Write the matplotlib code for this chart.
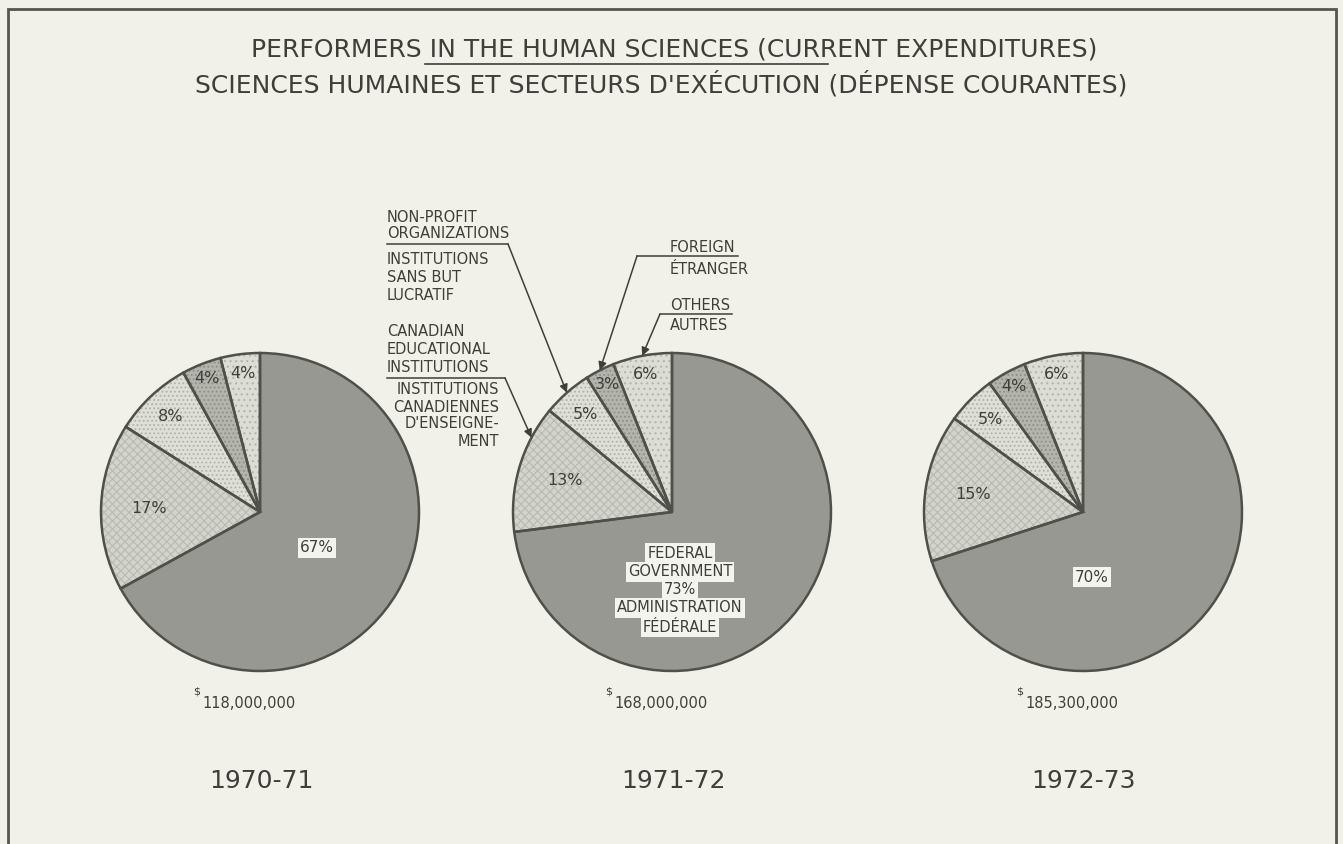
import numpy as np
import matplotlib
matplotlib.use("Agg")
import matplotlib.pyplot as plt
from matplotlib.patches import Rectangle

# ---------------- data ----------------
years = ["1970-71", "1971-72", "1972-73"]
totals = ["118,000,000", "168,000,000", "185,300,000"]
federal = [67, 73, 70]
educational = [17, 13, 15]
nonprofit = [8, 5, 5]
foreign = [4, 3, 4]
others = [4, 6, 6]
title_en = "PERFORMERS IN THE HUMAN SCIENCES (CURRENT EXPENDITURES)"
title_fr = "SCIENCES HUMAINES ET SECTEURS D'EXÉCUTION (DÉPENSE COURANTES)"

# ---------------- layout / style ----------------
W, H = 1343, 844
BG = "#f1f1e9"
INK = "#3e3f3a"
centers_x = [260, 672, 1083]
center_y = 512
R = 159
fills = ["#979891", "#d3d4cb", "#dedfd6", "#b3b4ac", "#dcddd4"]
hatches = [None, "xxxx", "....", "....", "..."]
hatch_cols = ["#979891", "#b9bab2", "#b0b1a9", "#8e8f88", "#b3b4ac"]
label_frac = [None, 0.70, 0.82, 0.90, 0.88]

plt.rcParams["font.family"] = ["DejaVu Sans"]
plt.rcParams["hatch.linewidth"] = 0.8

fig = plt.figure(figsize=(W / 100, H / 100), dpi=100, facecolor=BG)
ax = fig.add_axes([0, 0, 1, 1])
ax.set_facecolor(BG)


def Y(y):
    return H - y


def edge_point(cx, angle_deg, frac=1.0):
    a = np.deg2rad(angle_deg)
    return cx + frac * R * np.sin(a), center_y - frac * R * np.cos(a)


for i in range(3):
    vals = [federal[i], educational[i], nonprofit[i], foreign[i], others[i]]
    cx = centers_x[i]
    wedges, _ = ax.pie(vals, center=(cx, Y(center_y)), radius=R, startangle=90,
                       counterclock=False, colors=fills, frame=True,
                       wedgeprops=dict(linewidth=0))
    for w, h, hc in zip(wedges, hatches, hatch_cols):
        if h:
            w.set_hatch(h)
            w.set_edgecolor(hc)
            w.set_linewidth(0)
    ax.pie(vals, center=(cx, Y(center_y)), radius=R, startangle=90,
           counterclock=False, colors=["none"] * 5, frame=True,
           wedgeprops=dict(linewidth=1.8, edgecolor="#4f504a", fill=False))

    cum = np.cumsum([0] + vals) / 100 * 360
    for k in range(1, 5):
        mid = (cum[k] + cum[k + 1]) / 2
        px, py = edge_point(cx, mid, label_frac[k])
        ax.text(px, Y(py), f"{vals[k]}%", ha="center", va="center",
                fontsize=11.5, color=INK)

    ax.text(cx - 67, Y(692), "$", fontsize=8, color=INK, ha="left", va="center")
    ax.text(cx - 58, Y(704), totals[i], fontsize=10.5, color=INK, ha="left",
            va="center")
    ax.text(cx + 1, Y(781), years[i], fontsize=18, color=INK, ha="center",
            va="center")

box = dict(boxstyle="square,pad=0.15", fc="#f4f4ee", ec="none")
ax.text(317, Y(548), f"{federal[0]}%", ha="center", va="center", fontsize=11,
        color=INK, bbox=box)
ax.text(1092, Y(577), f"{federal[2]}%", ha="center", va="center", fontsize=11,
        color=INK, bbox=box)
for txt, yy in [("FEDERAL", 553), ("GOVERNMENT", 572), (f"{federal[1]}%", 590),
                ("ADMINISTRATION", 608), ("FÉDÉRALE", 627)]:
    ax.text(680, Y(yy), txt, ha="center", va="center", fontsize=10.5,
            color=INK, bbox=box)

# titles
t1 = ax.text(674, Y(50), title_en, ha="center", va="center", fontsize=18,
             color=INK)
ax.text(661, Y(84), title_fr, ha="center", va="center", fontsize=18,
        color=INK)
fig.canvas.draw()
bb = t1.get_window_extent(renderer=fig.canvas.get_renderer())
u0 = bb.x0 + 0.206 * bb.width
u1 = bb.x0 + 0.682 * bb.width
ax.plot([u0, u1], [Y(64), Y(64)], color=INK, lw=1.2)

# annotation texts
ann_fs = 10.5
for txt, yy in [("NON-PROFIT", 217), ("ORGANIZATIONS", 234),
                ("INSTITUTIONS", 259), ("SANS BUT", 277), ("LUCRATIF", 295),
                ("CANADIAN", 332), ("EDUCATIONAL", 350), ("INSTITUTIONS", 367)]:
    ax.text(387, Y(yy), txt, ha="left", va="center", fontsize=ann_fs, color=INK)
for txt, yy in [("INSTITUTIONS", 390), ("CANADIENNES", 407),
                ("D'ENSEIGNE-", 424), ("MENT", 442)]:
    ax.text(499, Y(yy), txt, ha="right", va="center", fontsize=ann_fs, color=INK)
for txt, yy in [("FOREIGN", 247), ("ÉTRANGER", 270), ("OTHERS", 305),
                ("AUTRES", 326)]:
    ax.text(670, Y(yy), txt, ha="left", va="center", fontsize=ann_fs, color=INK)

v2 = [federal[1], educational[1], nonprofit[1], foreign[1], others[1]]
cum2 = np.cumsum([0] + v2) / 100 * 360
targets = {
    "edu": cum2[1] + 0.75 * (cum2[2] - cum2[1]),
    "np": (cum2[2] + cum2[3]) / 2,
    "for": (cum2[3] + cum2[4]) / 2,
    "oth": (cum2[4] + cum2[5]) / 2,
}
leaders = [
    ("np", (387, 244), (508, 244)),
    ("edu", (387, 378), (505, 378)),
    ("for", (738, 256), (637, 256)),
    ("oth", (732, 314), (660, 314)),
]
for key, (x0, y0), (x1, y1) in leaders:
    ax.plot([x0, x1], [Y(y0), Y(y1)], color=INK, lw=1.1)
    tx, ty = edge_point(centers_x[1], targets[key])
    ax.annotate("", xy=(tx, Y(ty)), xytext=(x1, Y(y1)),
                arrowprops=dict(arrowstyle="-|>", color=INK, lw=1.1,
                                mutation_scale=12, shrinkA=0, shrinkB=0))

ax.add_patch(Rectangle((8, Y(850)), 1328, 841, fill=False, ec="#55564f", lw=2))

ax.set_xlim(0, W)
ax.set_ylim(0, H)
ax.set_aspect("auto")
ax.axis("off")

fig.savefig("out.png", dpi=100, facecolor=BG)
